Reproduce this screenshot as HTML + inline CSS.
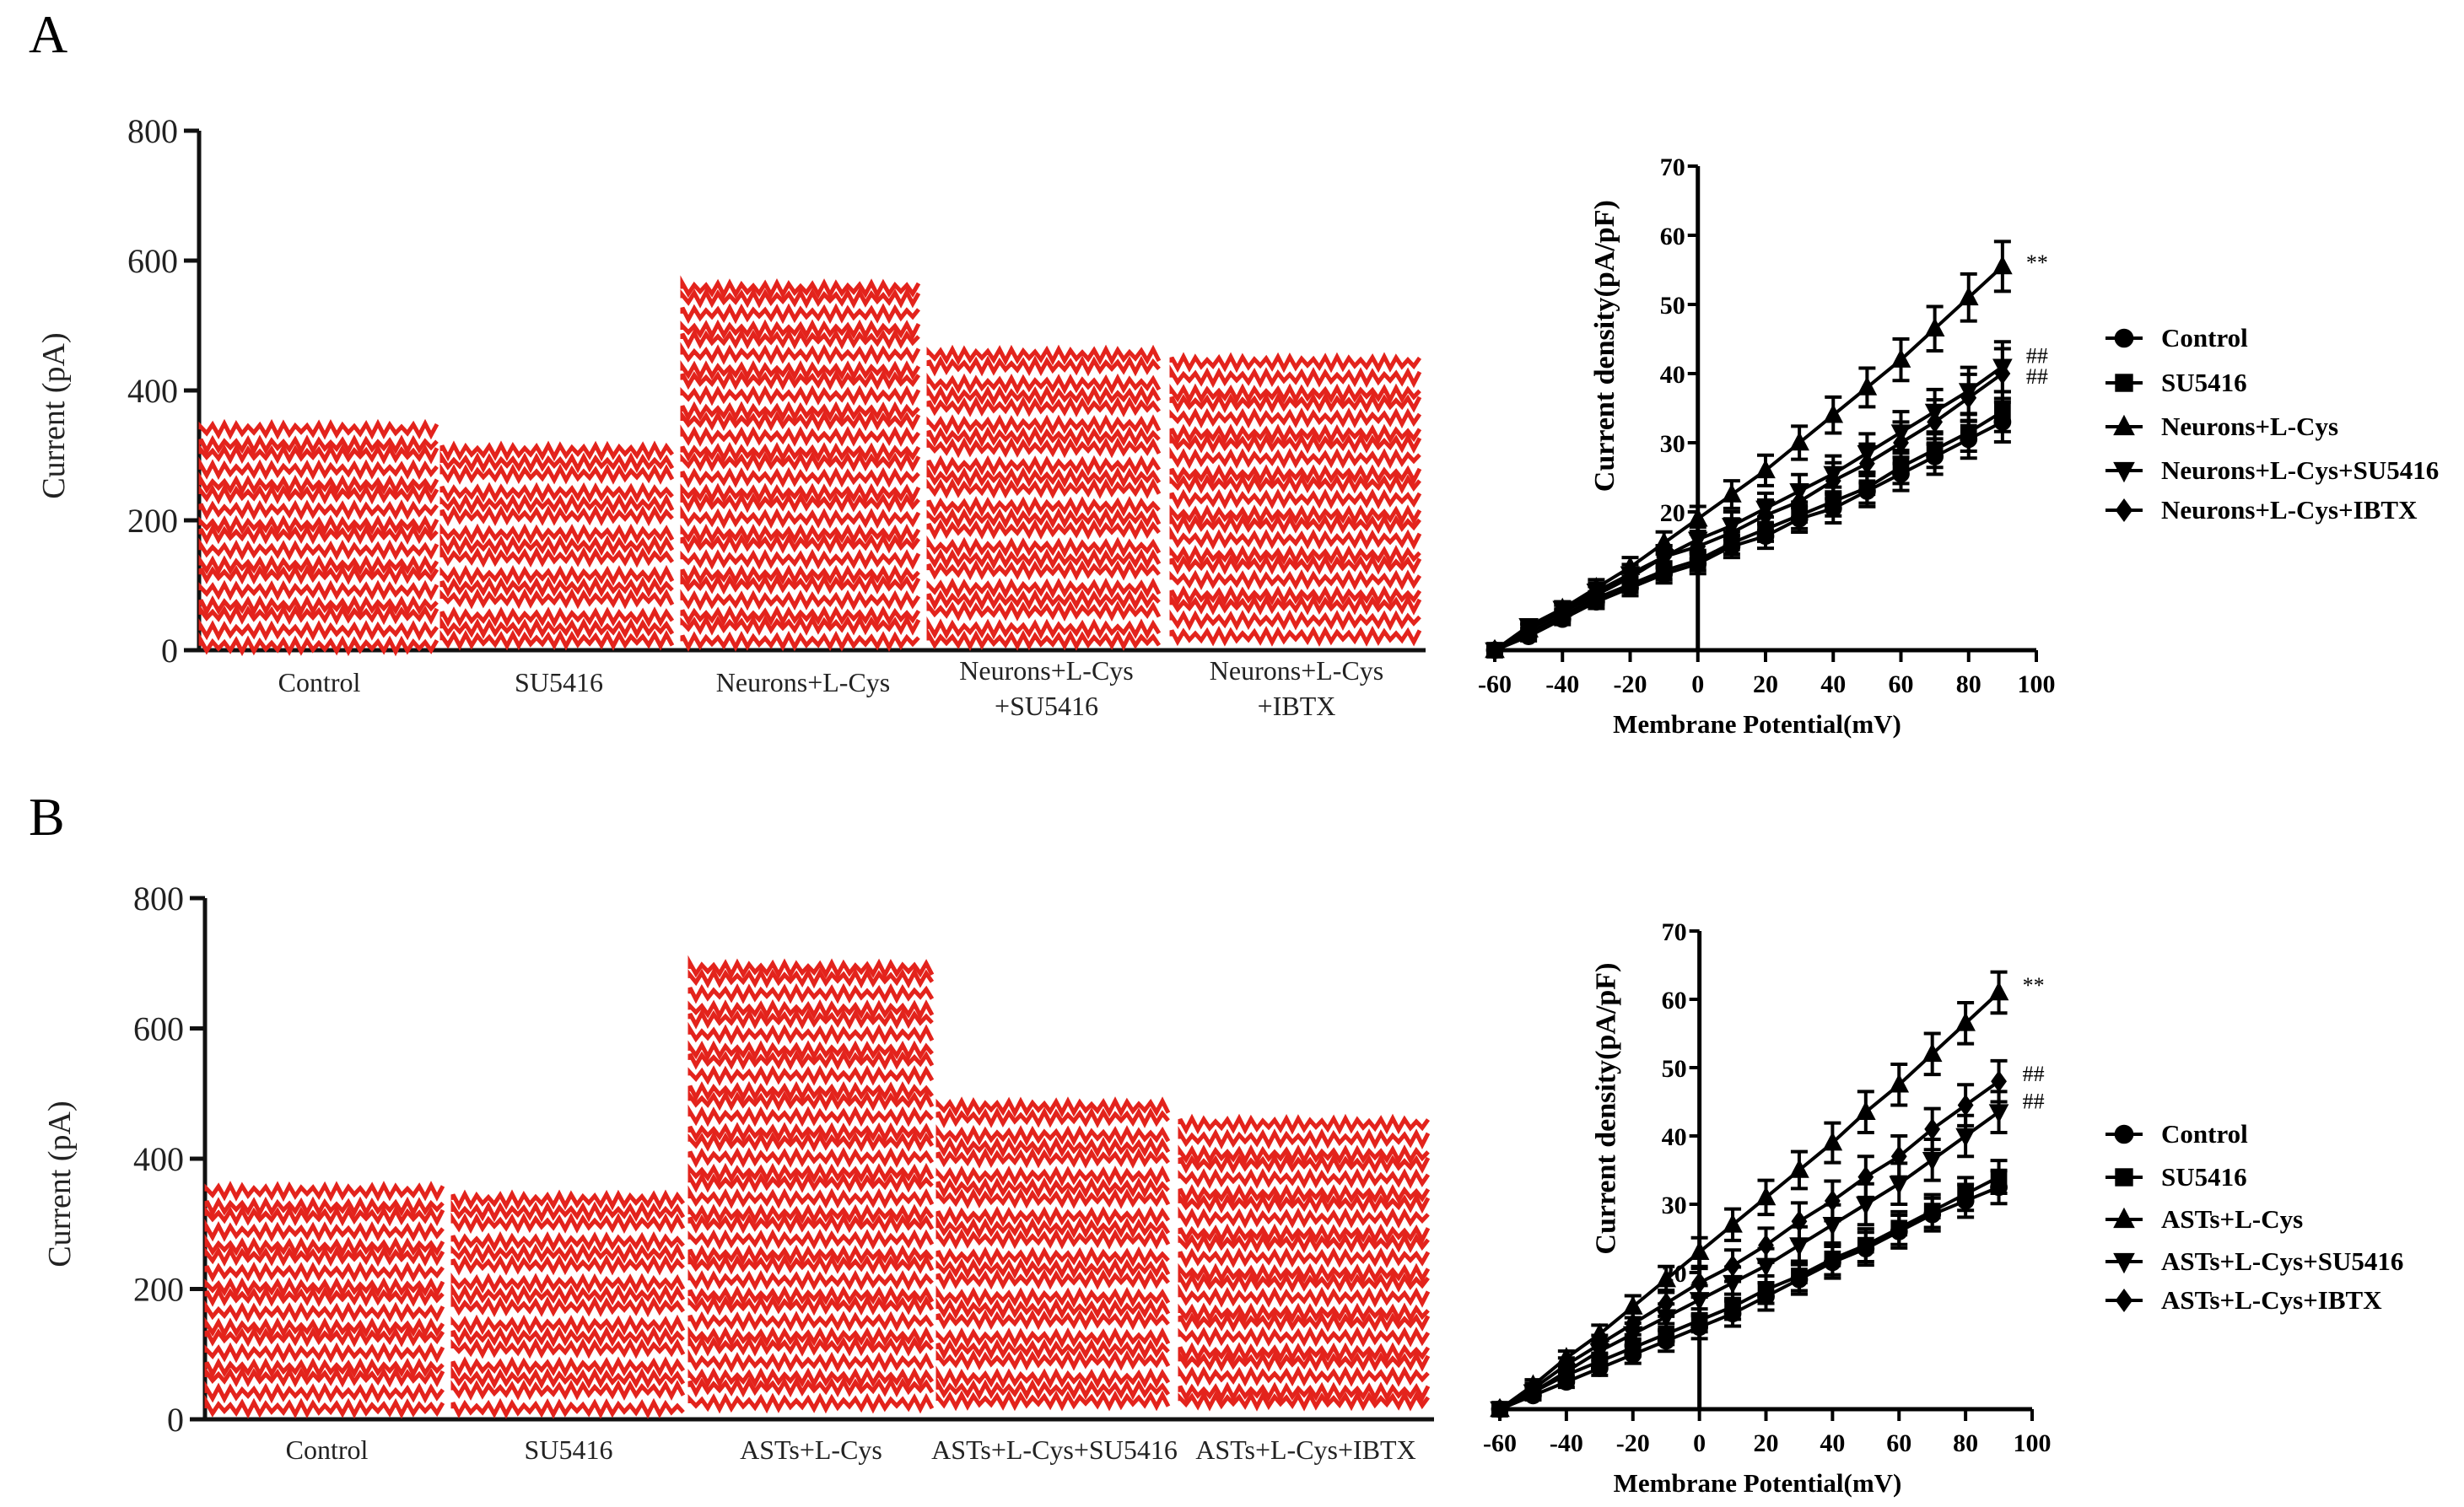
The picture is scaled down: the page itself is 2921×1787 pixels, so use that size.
<!DOCTYPE html>
<html><head><meta charset="utf-8">
<style>
html,body{margin:0;padding:0;background:#fff;}
svg{display:block;}
</style></head>
<body>
<svg id="fig" width="2921" height="1787" viewBox="0 0 2921 1787" xmlns="http://www.w3.org/2000/svg">
<text x="34" y="62" font-family="Liberation Serif,serif" font-size="64">A</text>
<text x="34" y="990" font-family="Liberation Serif,serif" font-size="64">B</text>
<g id="traceA"></g>
<g id="traceB"></g>
<g id="ivA"></g>
<g id="ivB"></g>
</svg>
<script>
// ---- Trace charts data ----
const traceCatsA = ["Control","SU5416","Neurons+L-Cys","Neurons+L-Cys\n+SU5416","Neurons+L-Cys\n+IBTX"];
const traceTopA = [340, 310, 560, 455, 440];
const traceBotA = [10, 12, 14, 15, 25];
const traceCatsB = ["Control","SU5416","ASTs+L-Cys","ASTs+L-Cys+SU5416","ASTs+L-Cys+IBTX"];
const traceTopB = [350, 340, 695, 480, 450];
const traceBotB = [20, 20, 25, 25, 25];
const traceTicks = [0, 200, 400, 600, 800];

// ---- IV chart data ----
const voltages = [-60,-50,-40,-30,-20,-10,0,10,20,30,40,50,60,70,80,90];
const xTicks = [-60,-40,-20,0,20,40,60,80,100];
const yTicks = [20,30,40,50,60,70];
const namesA = ["Control","SU5416","Neurons+L-Cys","Neurons+L-Cys+SU5416","Neurons+L-Cys+IBTX"];
const a_control = [0,2,4.5,7,9,11,12.5,15,16.5,19,20.5,23,25.5,28,30.5,33];
const a_su = [0,2.5,5,7.5,9.5,11.5,13,15.5,17.5,19.5,21.5,23.5,26.5,29,31.5,34.5];
const a_lcys = [0,3,6,9,12,15.5,19,22.5,26,30,34,38,42,46.5,51,55.5];
const a_lcysSu = [0,3.5,6,8.5,11,13.5,16,18,20.5,23,25.5,28.5,31.5,34.5,37.5,41];
const a_lcysIb = [0,3,5.5,8,10.5,13.5,15,17,19.5,21.5,24.5,27,30,33,36.5,40];
const a_err = [0.5,0.8,1,1.2,1.4,1.6,1.8,2,2.2,2.4,2.6,2.8,3,3.2,3.4,3.6];
const namesB = ["Control","SU5416","ASTs+L-Cys","ASTs+L-Cys+SU5416","ASTs+L-Cys+IBTX"];
const b_control = [0,2,4,6,8,10,12,14,16.5,19,21.5,23.5,26,28.5,30.5,32.5];
const b_su = [0,2.5,5,7,9,11,13,15,17.5,19.5,22,24,26.5,29,31.5,34];
const b_lcys = [0,3.5,7.5,11,15,19,23,27,31,35,39,43.5,47.5,52,56.5,61];
const b_lcysSu = [0,2.5,5.5,8.5,11,13.5,16,18.5,21,24,27,30,33,36.5,40,43.5];
const b_lcysIb = [0,3,6.5,9.5,12.5,15.5,18.5,21,24,27.5,30.5,34,37,41,44.5,48];
const b_err = [0.5,0.8,1,1.3,1.6,1.9,2.1,2.3,2.5,2.7,2.9,3,3,3,3,3];

const NS="http://www.w3.org/2000/svg";
function mk(tag, attrs, parent){const e=document.createElementNS(NS,tag);for(const k in attrs)e.setAttribute(k,attrs[k]);parent.appendChild(e);return e;}

function traceChart(g, cats, tops, bots, cfg){
  const y = v => cfg.y0 + (cfg.y800 - cfg.y0) * v / 800;
  const ax = mk('path',{d:`M${cfg.ax} ${cfg.y800} V${cfg.y0} H${cfg.xEnd}`,stroke:'#111',fill:'none','stroke-width':5},g);
  
  
  traceTicks.forEach(t=>{
    const tk=mk('line',{x1:cfg.ax-18,x2:cfg.ax,y1:y(t),y2:y(t),stroke:'#111','stroke-width':5},g);
    
    
    const tl=mk('text',{x:cfg.ax-25,y:y(t)+14,'text-anchor':'end','font-family':'Liberation Serif,serif','font-size':40,fill:'#222'},g);
    tl.textContent=t;
    
    
  });
  const yt=mk('text',{transform:`translate(${cfg.ax-160},${(cfg.y0+cfg.y800)/2+30}) rotate(-90)`,'text-anchor':'middle','font-family':'Liberation Serif,serif','font-size':38,fill:'#222'},g);
  yt.textContent='Current (pA)';
  
  
  cats.forEach((c,i)=>{
    const x0=cfg.blocks[i][0], x1=cfg.blocks[i][1];
    const blk=mk('g',{},g);
    
    
    const top=y(tops[i]), bot=y(bots[i]);
    const rows=Math.max(8,Math.round((bot-top)/16));
    for(let r=0;r<=rows;r++){
      const yy=top+(bot-top)*r/rows + 3*Math.sin(r*2.1+i);
      let d=`M${x0} ${yy}`;
      for(let x=x0, k=0;x<=x1;x+=7,k++){
        const a=3+4*Math.abs(Math.sin(k*0.37+r*1.3+i));
        d+=` L${x} ${yy+(k%2?a:-a)}`;
      }
      mk('path',{d:d,stroke:'#e3231c',fill:'none','stroke-width':5},blk);
    }
    const lines=c.split('\n');
    const tx=mk('text',{x:(x0+x1)/2,y:cfg.labY-(lines.length>1?14:0),'text-anchor':'middle','font-family':'Liberation Serif,serif','font-size':32,fill:'#222'},g);
    lines.forEach((ln,j)=>{const ts=mk('tspan',{x:(x0+x1)/2,dy:j?42:0},tx);ts.textContent=ln;});
    
    
  });
}
traceChart(document.getElementById('traceA'),traceCatsA,traceTopA,traceBotA,
  {ax:236,y0:771,y800:155,xEnd:1690,labY:820,blocks:[[238,519],[524,801],[809,1095],[1101,1380],[1389,1685]]});
traceChart(document.getElementById('traceB'),traceCatsB,traceTopB,traceBotB,
  {ax:243,y0:1683,y800:1065,xEnd:1700,labY:1730,blocks:[[245,530],[537,811],[818,1105],[1112,1388],[1399,1697]]});

function marker(g,type,x,y,s){
  if(type===0) mk('circle',{cx:x,cy:y,r:s*0.9},g);
  else if(type===1) mk('rect',{x:x-s*0.85,y:y-s*0.85,width:s*1.7,height:s*1.7},g);
  else if(type===2) mk('path',{d:`M${x} ${y-s*1.1} L${x+s} ${y+s*0.8} L${x-s} ${y+s*0.8}Z`},g);
  else if(type===3) mk('path',{d:`M${x} ${y+s*1.1} L${x+s} ${y-s*0.8} L${x-s} ${y-s*0.8}Z`},g);
  else mk('path',{d:`M${x} ${y-s*1.1} L${x+s*0.8} ${y} L${x} ${y+s*1.1} L${x-s*0.8} ${y}Z`},g);
}

function ivChart(g, names, series, err, cfg){
  const X=v=>cfg.xm60+(v+60)*(cfg.x100-cfg.xm60)/160;
  const Y=v=>cfg.y0-v*cfg.py;
  const x0=X(0);
  const ax=mk('path',{d:`M${x0} ${Y(70)} V${Y(0)} M${X(-60)} ${Y(0)} H${X(100)}`,stroke:'#000','stroke-width':5,fill:'none'},g);
  
  
  yTicks.forEach(t=>{
    const tk=mk('line',{x1:x0-12,x2:x0,y1:Y(t),y2:Y(t),stroke:'#000','stroke-width':4},g);
    
    
    const tl=mk('text',{x:x0-15,y:Y(t)+11,'text-anchor':'end','font-family':'Liberation Serif,serif','font-weight':'bold','font-size':30},g);
    tl.textContent=t;
    
    
  });
  xTicks.forEach(t=>{
    const tk=mk('line',{x1:X(t),x2:X(t),y1:Y(0),y2:Y(0)+14,stroke:'#000','stroke-width':4},g);
    
    
    const tl=mk('text',{x:X(t),y:Y(0)+50,'text-anchor':'middle','font-family':'Liberation Serif,serif','font-weight':'bold','font-size':30},g);
    tl.textContent=t;
    
    
  });
  const xt=mk('text',{x:X(20)-10,y:Y(0)+98,'text-anchor':'middle','font-family':'Liberation Serif,serif','font-weight':'bold','font-size':31},g);
  xt.textContent='Membrane Potential(mV)';
  
  
  const yt=mk('text',{transform:`translate(${x0-100},${Y(44)}) rotate(-90)`,'text-anchor':'middle','font-family':'Liberation Serif,serif','font-weight':'bold','font-size':34},g);
  yt.textContent='Current density(pA/pF)';
  
  
  series.forEach((s,si)=>{
    const sg=mk('g',{fill:'#000',stroke:'#000'},g);
    
    
    mk('polyline',{points:voltages.map((v,i)=>X(v)+','+Y(s[i])).join(' '),fill:'none','stroke-width':4},sg);
    voltages.forEach((v,i)=>{
      const e=err[i]*(si>=2?1:0.8);
      const up=Y(s[i]+e), dn=Y(s[i]-e);
      mk('path',{d:`M${X(v)} ${up} V${dn} M${X(v)-10} ${up} H${X(v)+10} M${X(v)-10} ${dn} H${X(v)+10}`,fill:'none','stroke-width':4},sg);
      marker(sg,si,X(v),Y(s[i]),11);
    });
  });
  cfg.notes.forEach(n=>{
    const t=mk('text',{x:X(90)+28,y:Y(n[1])+8,'font-family':'Liberation Serif,serif','font-size':26},g);
    t.textContent=n[0];
    
    
  });
  names.forEach((nm,i)=>{
    const lg=mk('g',{fill:'#000',stroke:'#000'},g);
    
    
    const yy=cfg.legY[i];
    mk('line',{x1:cfg.legX-22,x2:cfg.legX+22,y1:yy,y2:yy,'stroke-width':4},lg);
    marker(lg,i,cfg.legX,yy,12);
    const t=mk('text',{x:cfg.legX+44,y:yy+10,stroke:'none','font-family':'Liberation Serif,serif','font-weight':'bold','font-size':31},lg);
    t.textContent=nm;
  });
}
ivChart(document.getElementById('ivA'),namesA,[a_control,a_su,a_lcys,a_lcysSu,a_lcysIb],a_err,
  {xm60:1772,x100:2414,y0:771,py:8.2,legX:2518,legY:[401,454,506,558,605],notes:[['**',56],['##',42.5],['##',39.5]]});
ivChart(document.getElementById('ivB'),namesB,[b_control,b_su,b_lcys,b_lcysSu,b_lcysIb],b_err,
  {xm60:1778,x100:2409,y0:1671,py:8.1,legX:2518,legY:[1345,1396,1446,1496,1542],notes:[['**',62],['##',49],['##',45]]});
</script>
</body></html>
